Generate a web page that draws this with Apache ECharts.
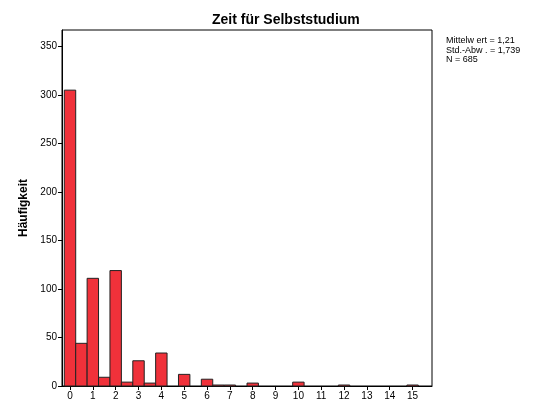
<!DOCTYPE html>
<html>
<head>
<meta charset="utf-8">
<script src="https://cdn.jsdelivr.net/npm/echarts@6/dist/echarts.min.js"></script>
<style>
	html, body { margin: 0; padding: 0; background: #fff; }
	#chart { width: 538px; height: 406px; }
</style>
</head>
<body>
<div id="chart"></div>
<script>
	// Klassenmitten (Breite 0,5) und Häufigkeiten
	var binCenters = [0, 0.5, 1, 1.5, 2, 2.5, 3, 3.5, 4, 5, 6, 6.5, 7, 8, 10, 12, 15];
	var counts = [305, 44, 111, 9, 119, 4, 26, 3, 34, 12, 7, 1, 1, 3, 4, 1, 1];
	var xTicks = [0, 1, 2, 3, 4, 5, 6, 7, 8, 9, 10, 11, 12, 13, 14, 15];
	var yTicks = [0, 50, 100, 150, 200, 250, 300, 350];
	var statLines = ['Mittelw ert = 1,21', 'Std.-Abw . = 1,739', 'N = 685'];
	var binWidth = 0.5;

	var seriesData = [];
	for (var i = 0; i < binCenters.length; i++) {
		seriesData.push([binCenters[i], counts[i]]);
	}

	var font = 'Arial, "Liberation Sans", sans-serif';

	var myChart = echarts.init(document.getElementById('chart'), null, {renderer: 'canvas'});
	myChart.setOption({
		animation: false,
		title: {
			text: 'Zeit für Selbststudium',
			left: 207,
			top: 8,
			textStyle: {fontFamily: font, fontSize: 14, fontWeight: 'bold', color: '#000'}
		},
		grid: {
			left: 62, right: 106, top: 30, bottom: 20,
			show: true, borderColor: '#000', borderWidth: 1, backgroundColor: '#fff'
		},
		xAxis: {
			type: 'value',
			min: -0.35,
			max: 15.85,
			splitLine: {show: false},
			axisLine: {onZero: false, lineStyle: {color: '#000', width: 1}},
			axisTick: {show: true, length: 4, customValues: xTicks, lineStyle: {color: '#000'}},
			axisLabel: {customValues: xTicks, color: '#000', fontSize: 10, fontFamily: font, margin: 5}
		},
		yAxis: {
			type: 'value',
			min: 0,
			max: 367,
			name: 'Häufigkeit',
			nameLocation: 'middle',
			nameGap: 25,
			nameTextStyle: {fontFamily: font, fontSize: 12, fontWeight: 'bold', color: '#000'},
			splitLine: {show: false},
			axisLine: {show: true, onZero: false, lineStyle: {color: '#000', width: 1}},
			axisTick: {show: true, length: 4, customValues: yTicks, lineStyle: {color: '#000'}},
			axisLabel: {customValues: yTicks, color: '#000', fontSize: 10, fontFamily: font, margin: 5}
		},
		graphic: [{
			type: 'text',
			left: 446,
			top: 36,
			style: {
				text: statLines.join('\n'),
				fontFamily: font,
				fontSize: 9,
				lineHeight: 9.5,
				fill: '#000'
			}
		}],
		series: [{
			type: 'custom',
			data: seriesData,
			renderItem: function(params, api) {
				var x = api.value(0);
				var v = api.value(1);
				var p1 = api.coord([x - binWidth / 2, v]);
				var p2 = api.coord([x + binWidth / 2, 0]);
				return {
					type: 'rect',
					shape: {x: p1[0], y: p1[1], width: p2[0] - p1[0], height: p2[1] - p1[1]},
					style: {fill: '#F0313A', stroke: '#222', lineWidth: 1}
				};
			}
		}]
	});
</script>
</body>
</html>
